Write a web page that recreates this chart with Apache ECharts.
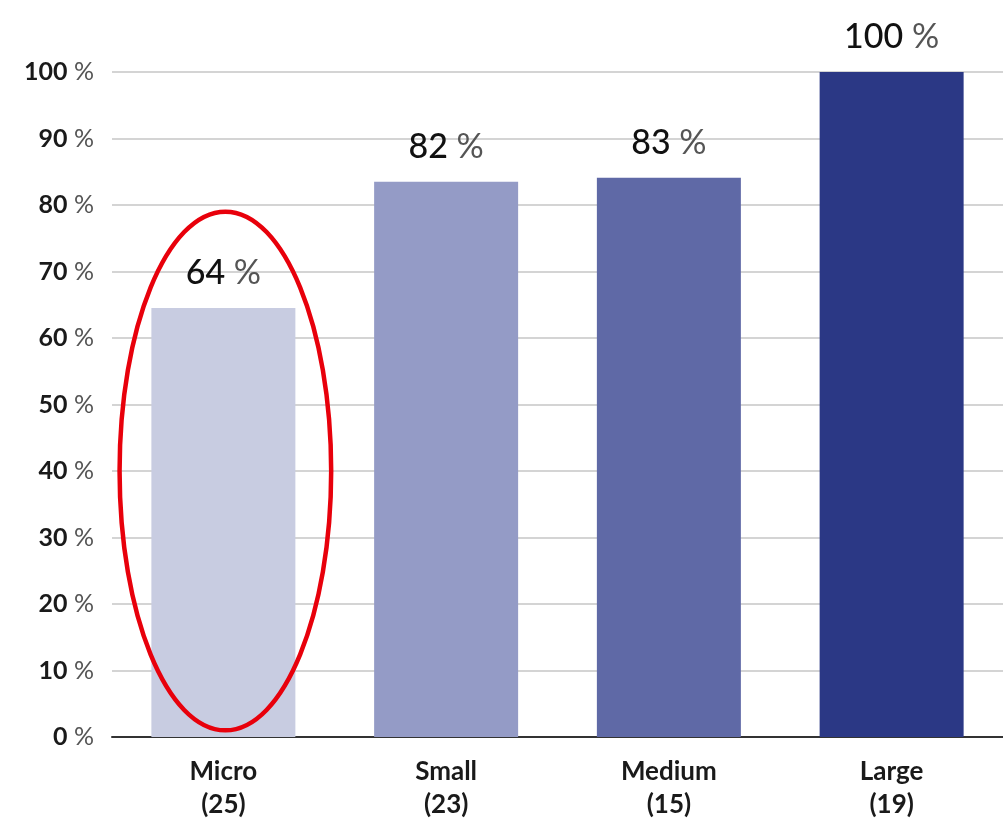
<!DOCTYPE html>
<html><head><meta charset="utf-8">
<script src="https://cdn.jsdelivr.net/npm/echarts@6/dist/echarts.min.js"></script>
<style>html,body{margin:0;padding:0;background:#fff}#c{width:1003px;height:821px}</style>
</head><body><div id="c"></div>
<script>
const categories = ['Micro', 'Small', 'Medium', 'Large'];
const counts = ['25', '23', '15', '19'];
const barValues = [64.5, 83.5, 84.1, 100];
const labelTexts = ['64', '82', '83', '100'];
const barColors = ['#c8cce1', '#949bc6', '#5f69a6', '#2b3885'];
const yTicks = [0, 10, 20, 30, 40, 50, 60, 70, 80, 90, 100];
// highlight ellipse around Micro: value range [low, high]
const highlightCategory = 'Micro';
const highlightRange = [1, 79];

const FONT = 'Lato, "Open Sans", sans-serif';
const chart = echarts.init(document.getElementById('c'));
chart.setOption({
  animation: false,
  grid: { left: 112, right: -2, top: 72, bottom: 84, containLabel: false },
  xAxis: {
    type: 'category',
    data: categories.map((c, i) => c + '\n(' + counts[i] + ')'),
    axisLine: { lineStyle: { color: '#333', width: 2 } },
    axisTick: { show: false },
    axisLabel: { color: '#1a1a1a', fontFamily: FONT, fontSize: 26, lineHeight: 33, margin: 18, fontWeight: 'bold' }
  },
  yAxis: {
    type: 'value', min: 0, max: 100, interval: 10,
    axisLine: { show: false }, axisTick: { show: false },
    splitLine: { lineStyle: { color: '#d4d4d4', width: 2 } },
    axisLabel: {
      margin: 18,
      formatter: v => '{n|' + v + '}{p| %}',
      rich: {
        n: { color: '#1a1a1a', fontFamily: FONT, fontSize: 25, fontWeight: 'bold' },
        p: { color: '#555', fontFamily: FONT, fontSize: 25 }
      }
    }
  },
  series: [{
    type: 'bar',
    barWidth: 144,
    data: barValues.map((v, i) => ({ value: v, itemStyle: { color: barColors[i] } })),
    label: {
      show: true, position: 'top', distance: 18,
      formatter: p => '{n|' + labelTexts[p.dataIndex] + '}{p| %}',
      rich: {
        n: { color: '#111', fontFamily: FONT, fontSize: 34, fontWeight: 500 },
        p: { color: '#555', fontFamily: FONT, fontSize: 34 }
      }
    }
  }]
});

function drawEllipse() {
  const ci = categories.indexOf(highlightCategory);
  const top = chart.convertToPixel({ gridIndex: 0 }, [ci, highlightRange[1]]);
  const bot = chart.convertToPixel({ gridIndex: 0 }, [ci, highlightRange[0]]);
  const next = chart.convertToPixel({ gridIndex: 0 }, [ci + 1, highlightRange[0]]);
  const rx = (next[0] - top[0]) * 0.475;
  chart.setOption({
    graphic: [{
      type: 'ellipse',
      shape: { cx: top[0] + 2, cy: (top[1] + bot[1]) / 2, rx: rx, ry: (bot[1] - top[1]) / 2 },
      style: { fill: 'none', stroke: '#e8000b', lineWidth: 4.5 },
      z: 100
    }]
  });
}
drawEllipse();
</script>
</body></html>
